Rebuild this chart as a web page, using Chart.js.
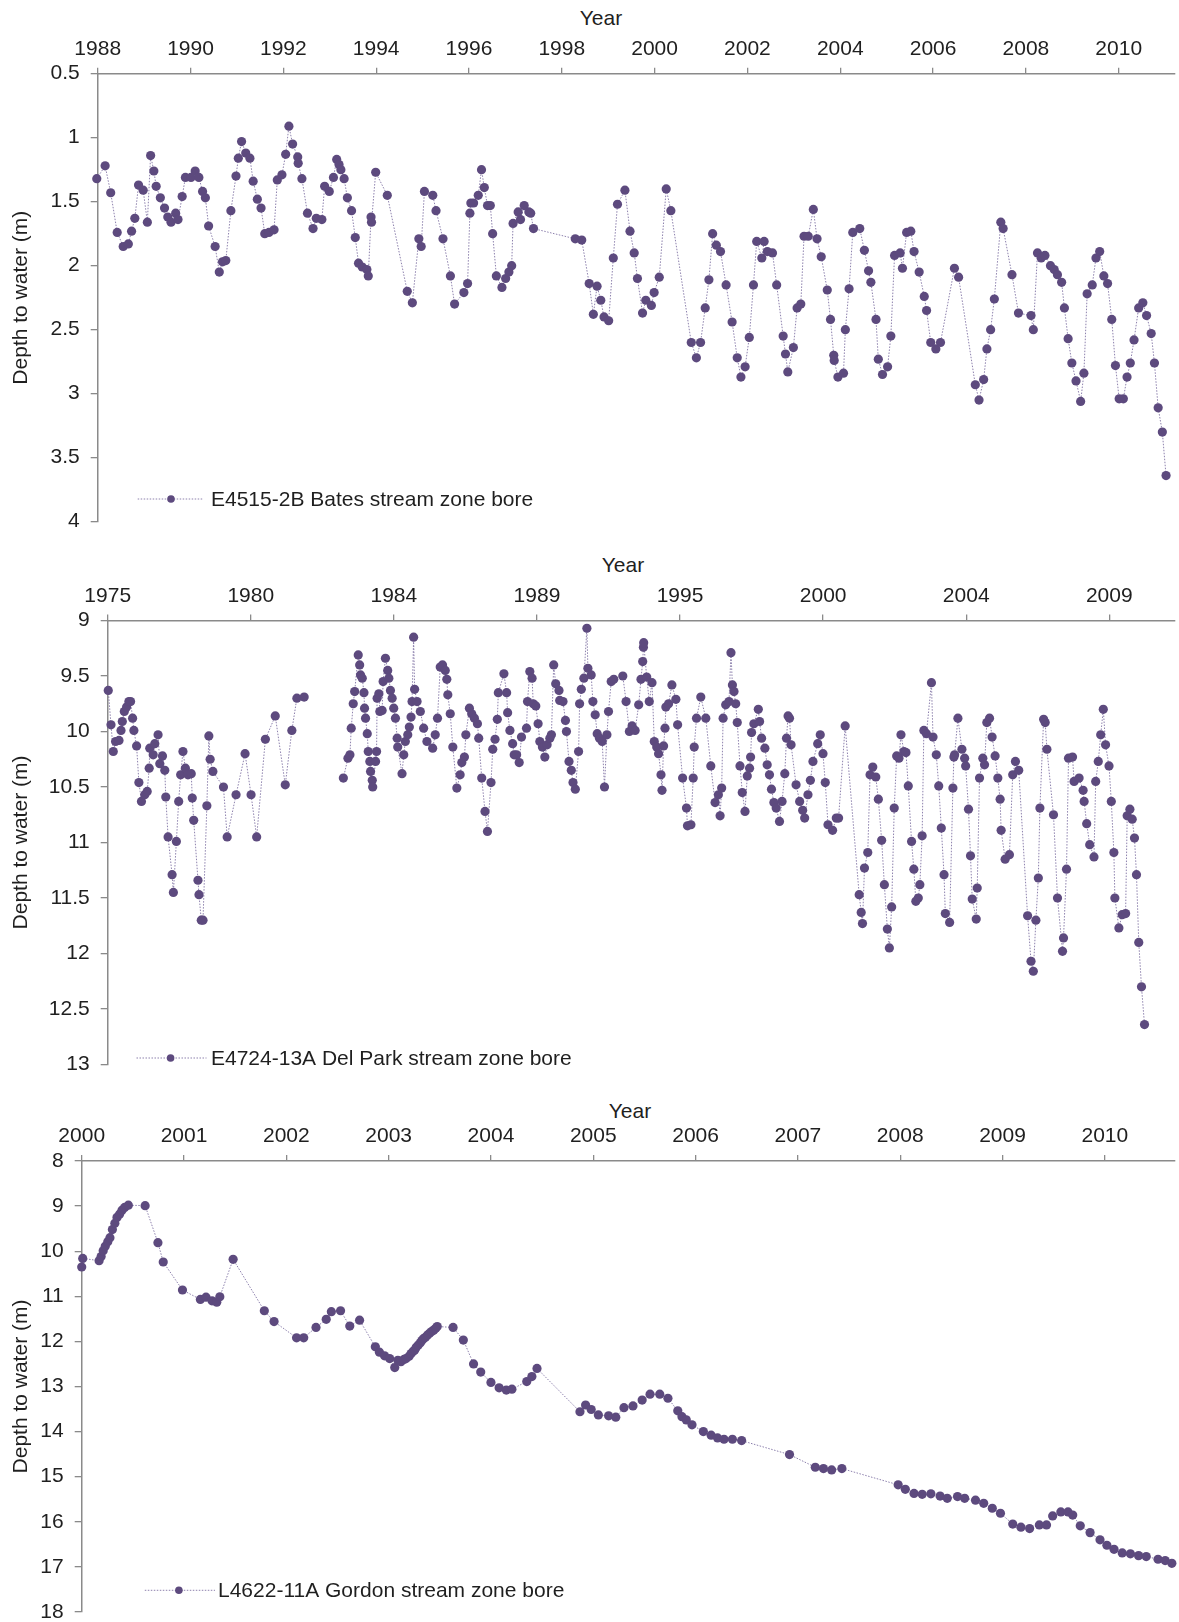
<!DOCTYPE html>
<html>
<head>
<meta charset="utf-8">
<title>Depth to water – stream zone bores</title>
<script src="https://cdn.jsdelivr.net/npm/chart.js@4.4.1/dist/chart.umd.min.js"></script>
<style>
  body { margin: 0; background: #fff; }
  #wrap { position: relative; width: 1179px; height: 1622px; overflow: hidden; }
  #wrap canvas { position: absolute; left: 0; }
  .axis-title {
    position: absolute;
    transform: translate(-50%, -50%);
    font: 21px "Liberation Sans", Arial, sans-serif;
    color: #1f1f1f;
    white-space: nowrap;
  }
</style>
</head>
<body>
<div id="wrap">
  <div class="axis-title" style="left:601px;top:18px">Year</div>
  <canvas id="bates" width="1179" height="552" style="top:0;width:1179px;height:552px"></canvas>
  <div class="axis-title" style="left:623px;top:565px">Year</div>
  <canvas id="delpark" width="1179" height="550" style="top:545px;width:1179px;height:550px"></canvas>
  <div class="axis-title" style="left:630px;top:1111px">Year</div>
  <canvas id="gordon" width="1179" height="554" style="top:1088px;width:1179px;height:554px"></canvas>
</div>
<script>
// ---- Bates bore (E4515-2B)
const batesYearTicks = [1988, 1990, 1992, 1994, 1996, 1998, 2000, 2002, 2004, 2006, 2008, 2010]
const batesDepthTicks = [0.5, 1, 1.5, 2, 2.5, 3, 3.5, 4]
const batesYear = [
  1987.98, 1988.16, 1988.28, 1988.42, 1988.55, 1988.66, 1988.73, 1988.80, 1988.88, 1988.98,
  1989.07, 1989.14, 1989.21, 1989.26, 1989.35, 1989.44, 1989.51, 1989.58, 1989.68, 1989.73,
  1989.82, 1989.89, 1990.01, 1990.10, 1990.18, 1990.26, 1990.32, 1990.39, 1990.53, 1990.62,
  1990.69, 1990.76, 1990.87, 1990.98, 1991.03, 1991.10, 1991.19, 1991.28, 1991.35, 1991.44,
  1991.52, 1991.60, 1991.69, 1991.80, 1991.87, 1991.97, 1992.05, 1992.12, 1992.20, 1992.31,
  1992.32, 1992.40, 1992.52, 1992.64, 1992.71, 1992.83, 1992.89, 1992.99, 1993.08, 1993.15,
  1993.20, 1993.24, 1993.31, 1993.38, 1993.47, 1993.55, 1993.62, 1993.70, 1993.80, 1993.83,
  1993.89, 1993.90, 1993.99, 1994.24, 1994.67, 1994.78, 1994.92, 1994.97, 1995.04, 1995.22,
  1995.29, 1995.44, 1995.60, 1995.69, 1995.89, 1995.97, 1996.02, 1996.04, 1996.10, 1996.20,
  1996.27, 1996.33, 1996.40, 1996.46, 1996.51, 1996.59, 1996.71, 1996.79, 1996.86, 1996.92,
  1996.95, 1997.06, 1997.11, 1997.19, 1997.29, 1997.33, 1997.39, 1998.29, 1998.43, 1998.59,
  1998.68, 1998.76, 1998.84, 1998.91, 1999.01, 1999.11, 1999.20, 1999.36, 1999.47, 1999.56,
  1999.63, 1999.74, 1999.81, 1999.93, 1999.99, 2000.10, 2000.25, 2000.35, 2000.79, 2000.90,
  2000.99, 2001.09, 2001.17, 2001.25, 2001.33, 2001.42, 2001.54, 2001.67, 2001.78, 2001.86,
  2001.95, 2002.04, 2002.13, 2002.20, 2002.31, 2002.36, 2002.43, 2002.54, 2002.63, 2002.77,
  2002.82, 2002.87, 2002.99, 2003.07, 2003.15, 2003.22, 2003.31, 2003.42, 2003.50, 2003.59,
  2003.72, 2003.79, 2003.86, 2003.87, 2003.95, 2004.07, 2004.11, 2004.19, 2004.27, 2004.42,
  2004.52, 2004.61, 2004.66, 2004.77, 2004.82, 2004.91, 2005.02, 2005.09, 2005.17, 2005.29,
  2005.34, 2005.43, 2005.52, 2005.59, 2005.70, 2005.81, 2005.86, 2005.95, 2006.06, 2006.16,
  2006.46, 2006.55, 2006.91, 2006.99, 2007.09, 2007.16, 2007.24, 2007.32, 2007.46, 2007.51,
  2007.70, 2007.84, 2008.11, 2008.16, 2008.25, 2008.33, 2008.41, 2008.53, 2008.61, 2008.68,
  2008.77, 2008.83, 2008.91, 2008.99, 2009.08, 2009.18, 2009.25, 2009.32, 2009.43, 2009.51,
  2009.59, 2009.68, 2009.76, 2009.85, 2009.93, 2010.01, 2010.10, 2010.18, 2010.25, 2010.33,
  2010.43, 2010.52, 2010.60, 2010.70, 2010.77, 2010.85, 2010.94, 2011.02
]
const batesDepth = [
  1.32, 1.22, 1.43, 1.74, 1.85, 1.83, 1.73, 1.63, 1.37, 1.41,
  1.66, 1.14, 1.26, 1.38, 1.47, 1.55, 1.62, 1.66, 1.59, 1.64,
  1.46, 1.31, 1.31, 1.26, 1.31, 1.42, 1.47, 1.69, 1.85, 2.05,
  1.97, 1.96, 1.57, 1.30, 1.16, 1.03, 1.12, 1.16, 1.34, 1.48,
  1.55, 1.75, 1.74, 1.72, 1.33, 1.29, 1.13, 0.91, 1.05, 1.15,
  1.20, 1.32, 1.59, 1.71, 1.63, 1.64, 1.38, 1.42, 1.31, 1.17,
  1.21, 1.25, 1.32, 1.47, 1.57, 1.78, 1.98, 2.01, 2.03, 2.08,
  1.62, 1.66, 1.27, 1.45, 2.20, 2.29, 1.79, 1.85, 1.42, 1.45,
  1.57, 1.79, 2.08, 2.30, 2.21, 2.14, 1.59, 1.51, 1.51, 1.45,
  1.25, 1.39, 1.53, 1.53, 1.75, 2.08, 2.17, 2.10, 2.05, 2.00,
  1.67, 1.58, 1.64, 1.53, 1.58, 1.59, 1.71, 1.79, 1.80, 2.14,
  2.38, 2.16, 2.27, 2.40, 2.43, 1.94, 1.52, 1.41, 1.73, 1.90,
  2.10, 2.37, 2.27, 2.31, 2.21, 2.09, 1.40, 1.57, 2.60, 2.72,
  2.60, 2.33, 2.11, 1.75, 1.84, 1.89, 2.15, 2.44, 2.72, 2.87,
  2.79, 2.56, 2.15, 1.81, 1.94, 1.81, 1.89, 1.90, 2.15, 2.55,
  2.69, 2.83, 2.64, 2.33, 2.30, 1.77, 1.77, 1.56, 1.79, 1.93,
  2.19, 2.42, 2.70, 2.74, 2.87, 2.84, 2.50, 2.18, 1.74, 1.71,
  1.88, 2.04, 2.13, 2.42, 2.73, 2.85, 2.79, 2.55, 1.92, 1.90,
  2.02, 1.74, 1.73, 1.89, 2.05, 2.24, 2.35, 2.60, 2.65, 2.60,
  2.02, 2.09, 2.93, 3.05, 2.89, 2.65, 2.50, 2.26, 1.66, 1.71,
  2.07, 2.37, 2.39, 2.50, 1.90, 1.94, 1.92, 2.00, 2.03, 2.07,
  2.13, 2.33, 2.57, 2.76, 2.90, 3.06, 2.84, 2.22, 2.15, 1.94,
  1.89, 2.08, 2.14, 2.42, 2.78, 3.04, 3.04, 2.87, 2.76, 2.58,
  2.33, 2.29, 2.39, 2.53, 2.76, 3.11, 3.30, 3.64
]

// ---- Del Park bore (E4724-13A): x is position along the axis, one unit per labelled tick
const delParkTickLabels = ['1975', '1980', '1984', '1989', '1995', '2000', '2004', '2009']
const delParkDepthTicks = [9, 9.5, 10, 10.5, 11, 11.5, 12, 12.5, 13]
const delParkPos = [
  0.004, 0.023, 0.039, 0.055, 0.079, 0.093, 0.102, 0.116, 0.132, 0.148,
  0.160, 0.174, 0.183, 0.202, 0.218, 0.236, 0.259, 0.276, 0.290, 0.294,
  0.318, 0.329, 0.352, 0.364, 0.383, 0.399, 0.406, 0.422, 0.450, 0.459,
  0.480, 0.496, 0.510, 0.526, 0.543, 0.561, 0.584, 0.591, 0.601, 0.631,
  0.638, 0.654, 0.666, 0.693, 0.707, 0.716, 0.735, 0.809, 0.835, 0.897,
  0.960, 1.002, 1.041, 1.102, 1.171, 1.241, 1.287, 1.322, 1.373, 1.500,
  1.647, 1.679, 1.693, 1.702, 1.716, 1.726, 1.751, 1.761, 1.767, 1.779,
  1.791, 1.795, 1.802, 1.814, 1.821, 1.832, 1.837, 1.849, 1.852, 1.872,
  1.879, 1.883, 1.895, 1.902, 1.918, 1.925, 1.941, 1.957, 1.965, 1.976,
  1.988, 1.999, 2.011, 2.023, 2.027, 2.057, 2.069, 2.080, 2.097, 2.108,
  2.120, 2.127, 2.138, 2.145, 2.162, 2.185, 2.208, 2.231, 2.271, 2.289,
  2.305, 2.324, 2.340, 2.359, 2.370, 2.377, 2.394, 2.412, 2.440, 2.463,
  2.475, 2.493, 2.503, 2.528, 2.544, 2.563, 2.584, 2.593, 2.614, 2.637,
  2.654, 2.679, 2.691, 2.707, 2.723, 2.730, 2.769, 2.788, 2.795, 2.811,
  2.830, 2.841, 2.858, 2.876, 2.892, 2.927, 2.934, 2.950, 2.966, 2.974,
  2.992, 3.008, 3.020, 3.038, 3.055, 3.071, 3.090, 3.101, 3.117, 3.131,
  3.154, 3.159, 3.182, 3.199, 3.206, 3.224, 3.240, 3.252, 3.268, 3.291,
  3.298, 3.310, 3.328, 3.349, 3.356, 3.379, 3.391, 3.407, 3.421, 3.437,
  3.456, 3.472, 3.489, 3.500, 3.519, 3.537, 3.600, 3.623, 3.646, 3.665,
  3.686, 3.711, 3.727, 3.739, 3.744, 3.746, 3.767, 3.785, 3.804, 3.820,
  3.837, 3.850, 3.867, 3.874, 3.885, 3.895, 3.901, 3.920, 3.943, 3.971,
  3.983, 4.018, 4.045, 4.052, 4.076, 4.092, 4.099, 4.115, 4.145, 4.180,
  4.215, 4.245, 4.268, 4.280, 4.291, 4.301, 4.319, 4.342, 4.356, 4.366,
  4.377, 4.389, 4.400, 4.419, 4.435, 4.454, 4.470, 4.486, 4.493, 4.500,
  4.516, 4.547, 4.556, 4.570, 4.593, 4.609, 4.625, 4.639, 4.656, 4.672,
  4.695, 4.713, 4.732, 4.744, 4.755, 4.765, 4.776, 4.811, 4.836, 4.857,
  4.871, 4.894, 4.911, 4.929, 4.962, 4.980, 4.999, 5.015, 5.034, 5.066,
  5.092, 5.108, 5.154, 5.252, 5.266, 5.275, 5.289, 5.312, 5.328, 5.347,
  5.368, 5.386, 5.409, 5.428, 5.449, 5.463, 5.479, 5.497, 5.514, 5.530,
  5.544, 5.565, 5.579, 5.595, 5.618, 5.634, 5.648, 5.665, 5.676, 5.692,
  5.704, 5.722, 5.757, 5.768, 5.791, 5.808, 5.826, 5.845, 5.854, 5.884,
  5.907, 5.914, 5.919, 5.942, 5.970, 5.989, 5.996, 6.016, 6.030, 6.042,
  6.070, 6.077, 6.093, 6.116, 6.128, 6.144, 6.163, 6.181, 6.202, 6.221,
  6.237, 6.244, 6.272, 6.302, 6.325, 6.344, 6.367, 6.429, 6.453, 6.469,
  6.487, 6.504, 6.515, 6.541, 6.552, 6.564, 6.610, 6.638, 6.673, 6.680,
  6.701, 6.715, 6.743, 6.754, 6.789, 6.817, 6.824, 6.842, 6.863, 6.893,
  6.905, 6.923, 6.940, 6.958, 6.974, 6.998, 7.014, 7.032, 7.039, 7.067,
  7.090, 7.114, 7.125, 7.144, 7.160, 7.176, 7.190, 7.206, 7.225, 7.246
]
const delParkDepth = [
  9.63, 9.94, 10.18, 10.09, 10.08, 9.99, 9.91, 9.82, 9.78, 9.73,
  9.73, 9.88, 9.99, 10.13, 10.46, 10.63, 10.57, 10.54, 10.33, 10.15,
  10.21, 10.11, 10.03, 10.29, 10.22, 10.35, 10.59, 10.95, 11.29, 11.45,
  10.99, 10.63, 10.39, 10.18, 10.33, 10.39, 10.38, 10.60, 10.80, 11.34,
  11.47, 11.70, 11.70, 10.67, 10.04, 10.25, 10.36, 10.50, 10.95, 10.57,
  10.20, 10.57, 10.95, 10.07, 9.86, 10.48, 9.99, 9.70, 9.69, null,
  10.42, 10.24, 10.21, 9.97, 9.75, 9.64, 9.31, 9.40, 9.49, 9.52,
  9.65, 9.79, 9.88, 10.02, 10.18, 10.27, 10.36, 10.44, 10.50, 10.27,
  10.18, 9.70, 9.66, 9.82, 9.81, 9.55, 9.34, 9.45, 9.52, 9.63,
  9.70, 9.79, 9.88, 10.06, 10.14, 10.38, 10.21, 10.09, 10.03, 9.96,
  9.87, 9.73, 9.15, 9.62, 9.73, 9.82, 9.97, 10.09, 10.15, 10.03,
  9.88, 9.42, 9.40, 9.45, 9.53, 9.67, 9.84, 10.14, 10.51, 10.39,
  10.28, 10.23, 10.03, 9.79, 9.84, 9.88, 9.93, 10.06, 10.42, 10.72,
  10.90, 10.46, 10.16, 10.07, 9.89, 9.65, 9.48, 9.65, 9.83, 9.99,
  10.11, 10.21, 10.21, 10.28, 10.05, 9.97, 9.73, 9.46, 9.52, 9.75,
  9.77, 9.93, 10.09, 10.14, 10.23, 10.12, 10.06, 10.03, 9.40, 9.57,
  9.63, 9.72, 9.73, 9.90, 10.00, 10.27, 10.35, 10.46, 10.52, 10.18,
  9.75, 9.62, 9.52, 9.07, 9.43, 9.49, 9.73, 9.85, 10.02, 10.06,
  10.09, 10.50, 10.03, 9.82, 9.55, 9.53, 9.50, 9.73, 10.00, 9.95,
  9.99, 9.76, 9.53, 9.37, 9.24, 9.20, 9.51, 9.73, 9.56, 10.09,
  10.14, 10.20, 10.39, 10.53, 10.13, 9.97, 9.78, 9.75, 9.58, 9.71,
  9.94, 10.42, 10.69, 10.85, 10.84, 10.42, 10.14, 9.88, 9.69, 9.88,
  10.31, 10.64, 10.57, 10.76, 10.51, 9.88, 9.76, 9.73, 9.29, 9.58,
  9.64, 9.75, 9.92, 10.31, 10.55, 10.72, 10.40, 10.33, 10.23, 10.01,
  9.93, 9.80, 9.91, 10.06, 10.15, 10.30, 10.39, 10.52, 10.64, 10.69,
  10.81, 10.63, 10.38, 10.06, 9.86, 9.88, 10.12, 10.48, 10.63, 10.71,
  10.78, 10.57, 10.44, 10.27, 10.11, 10.03, 10.20, 10.46, 10.84, 10.89,
  10.78, 10.78, 9.95, 11.47, 11.63, 11.73, 11.23, 11.09, 10.39, 10.32,
  10.41, 10.61, 10.98, 11.38, 11.78, 11.95, 11.58, 10.69, 10.22, 10.24,
  10.03, 10.18, 10.19, 10.49, 10.99, 11.24, 11.53, 11.50, 11.38, 10.94,
  9.99, 10.02, 9.56, 10.05, 10.21, 10.49, 10.87, 11.29, 11.64, 11.72,
  10.51, 10.23, 10.21, 9.88, 10.16, 10.24, 10.31, 10.70, 11.12, 11.51,
  11.69, 11.41, 10.42, 10.24, 10.30, 9.92, 9.88, 10.05, 10.22, 10.42,
  10.61, 10.89, 11.15, 11.11, 10.39, 10.27, 10.35, 11.66, 12.07, 12.16,
  11.70, 11.32, 10.69, 9.89, 9.92, 10.16, 10.75, 11.50, 11.98, 11.86,
  11.24, 10.24, 10.23, 10.45, 10.42, 10.53, 10.63, 10.83, 11.02, 11.13,
  10.45, 10.27, 10.03, 9.80, 10.12, 10.31, 10.63, 11.09, 11.50, 11.77,
  11.65, 11.64, 10.76, 10.70, 10.79, 10.96, 11.29, 11.90, 12.30, 12.64
]

// ---- Gordon bore (L4622-11A)
const gordonYearTicks = [2000, 2001, 2002, 2003, 2004, 2005, 2006, 2007, 2008, 2009, 2010]
const gordonDepthTicks = [8, 9, 10, 11, 12, 13, 14, 15, 16, 17, 18]
const gordonYear = [
  2000.00, 2000.01, 2000.17, 2000.19, 2000.21, 2000.23, 2000.255, 2000.276, 2000.30, 2000.324,
  2000.345, 2000.37, 2000.394, 2000.42, 2000.456, 2000.62, 2000.745, 2000.797, 2000.985, 2001.16,
  2001.215, 2001.274, 2001.32, 2001.35, 2001.48, 2001.785, 2001.88, 2002.10, 2002.17, 2002.29,
  2002.39, 2002.44, 2002.53, 2002.62, 2002.716, 2002.87, 2002.91, 2002.96, 2003.01, 2003.06,
  2003.09, 2003.12, 2003.15, 2003.17, 2003.20, 2003.22, 2003.24, 2003.255, 2003.27, 2003.29,
  2003.31, 2003.325, 2003.34, 2003.36, 2003.38, 2003.40, 2003.42, 2003.44, 2003.46, 2003.475,
  2003.63, 2003.73, 2003.83, 2003.90, 2004.00, 2004.08, 2004.15, 2004.205, 2004.35, 2004.40,
  2004.45, 2004.87, 2004.925, 2004.98, 2005.05, 2005.15, 2005.22, 2005.30, 2005.388, 2005.478,
  2005.555, 2005.65, 2005.73, 2005.826, 2005.867, 2005.909, 2005.965, 2006.076, 2006.152, 2006.215,
  2006.278, 2006.36, 2006.45, 2006.918, 2007.17, 2007.25, 2007.33, 2007.43, 2007.98, 2008.05,
  2008.135, 2008.215, 2008.30, 2008.39, 2008.46, 2008.56, 2008.63, 2008.736, 2008.816, 2008.90,
  2008.98, 2009.10, 2009.18, 2009.265, 2009.36, 2009.43, 2009.49, 2009.57, 2009.64, 2009.686,
  2009.76, 2009.856, 2009.953, 2010.02, 2010.09, 2010.17, 2010.25, 2010.33, 2010.405, 2010.52,
  2010.59, 2010.655
]
const gordonDepth = [
  10.35, 10.16, 10.21, 10.12, 9.99, 9.89, 9.79, 9.70, 9.52, 9.38,
  9.25, 9.18, 9.09, 9.03, 8.98, 8.99, 9.81, 10.24, 10.86, 11.07,
  11.02, 11.10, 11.13, 11.01, 10.18, 11.32, 11.56, 11.92, 11.92, 11.69,
  11.51, 11.34, 11.32, 11.66, 11.53, 12.12, 12.24, 12.32, 12.38, 12.58,
  12.42, 12.45, 12.40, 12.38, 12.33, 12.27, 12.22, 12.19, 12.13, 12.08,
  12.03, 11.98, 11.94, 11.91, 11.86, 11.82, 11.78, 11.75, 11.71, 11.67,
  11.69, 11.97, 12.50, 12.68, 12.91, 13.03, 13.08, 13.06, 12.89, 12.78,
  12.60, 13.56, 13.41, 13.51, 13.63, 13.65, 13.68, 13.47, 13.43, 13.30,
  13.17, 13.17, 13.26, 13.54, 13.67, 13.74, 13.85, 14.00, 14.08, 14.14,
  14.17, 14.17, 14.20, 14.51, 14.79, 14.82, 14.85, 14.82, 15.18, 15.28,
  15.37, 15.39, 15.38, 15.43, 15.48, 15.44, 15.48, 15.52, 15.59, 15.70,
  15.81, 16.05, 16.12, 16.15, 16.07, 16.07, 15.87, 15.78, 15.78, 15.85,
  16.09, 16.24, 16.40, 16.52, 16.61, 16.69, 16.71, 16.75, 16.77, 16.83,
  16.86, 16.92
]

// ---- shared look
const FONT = '"Liberation Sans", Arial, sans-serif'
const TEXT = '#1f1f1f'
const AXIS = '#8a8a8a'
const MARKER = '#5d4a7e'
const LINE = 'rgba(112, 98, 152, 0.8)'

Chart.defaults.font.family = FONT
Chart.defaults.font.size = 21
Chart.defaults.color = TEXT

// legend drawn as a short dotted line with a marker, like the spreadsheet original
const legendSample = {
  id: 'legendSample',
  afterDraw(chart, args, o) {
    const ctx = chart.ctx
    const ds = chart.data.datasets[0]
    ctx.save()
    ctx.strokeStyle = LINE
    ctx.lineWidth = 1
    ctx.setLineDash([1.5, 1.5])
    ctx.beginPath()
    ctx.moveTo(o.x1, o.y)
    ctx.lineTo(o.x2, o.y)
    ctx.stroke()
    ctx.setLineDash([])
    ctx.fillStyle = MARKER
    ctx.beginPath()
    ctx.arc(o.dot, o.y, 3.8, 0, Math.PI * 2)
    ctx.fill()
    ctx.fillStyle = TEXT
    ctx.font = '21px ' + FONT
    ctx.textBaseline = 'middle'
    ctx.textAlign = 'left'
    ctx.fillText(ds.label, o.textX, o.y + 1)
    ctx.restore()
  }
}

function makePanel(id, xs, ys, c) {
  const points = xs.map((x, i) => ({ x: x, y: ys[i] }))
  return new Chart(document.getElementById(id), {
    type: 'line',
    data: {
      datasets: [{
        label: c.label,
        data: points,
        borderColor: LINE,
        borderWidth: 1,
        borderDash: [1.5, 1.5],
        tension: 0,
        spanGaps: false,
        clip: false,
        pointRadius: 4.6,
        pointBackgroundColor: MARKER,
        pointBorderColor: MARKER,
        pointBorderWidth: 0
      }]
    },
    options: {
      responsive: false,
      animation: false,
      devicePixelRatio: 1,
      events: [],
      layout: { padding: { left: 0, right: 0, top: 0, bottom: c.padBottom } },
      plugins: {
        legend: { display: false },
        tooltip: { enabled: false },
        legendSample: c.legend
      },
      scales: {
        x: {
          type: 'linear',
          position: 'top',
          min: c.xMin,
          max: c.xMax,
          afterBuildTicks: s => { s.ticks = c.xTicks.map(v => ({ value: v })) },
          afterFit: s => { s.height = c.xAxisHeight },
          ticks: { callback: c.xLabel, padding: 6, maxRotation: 0, autoSkip: false, color: TEXT },
          grid: { drawOnChartArea: false, drawTicks: true, tickLength: 6, color: AXIS, lineWidth: 1.3 },
          border: { color: AXIS, width: 1.5 }
        },
        y: {
          type: 'linear',
          reverse: true,
          min: c.yTicks[0],
          max: c.yTicks[c.yTicks.length - 1],
          afterBuildTicks: s => { s.ticks = c.yTicks.map(v => ({ value: v })) },
          afterFit: s => { s.width = c.yAxisWidth },
          ticks: { callback: v => String(v), padding: 11, color: TEXT },
          grid: { drawOnChartArea: false, drawTicks: true, tickLength: 7, color: AXIS, lineWidth: 1.3 },
          border: { color: AXIS, width: 1.5 },
          title: { display: true, text: 'Depth to water (m)', color: TEXT, padding: { top: 9, bottom: 0 } }
        }
      }
    },
    plugins: [legendSample]
  })
}

// bottom padding is kept above Chart.js's own label allowance so the plot bottom lands exactly
makePanel('bates', batesYear, batesDepth, {
  label: 'E4515-2B Bates stream zone bore',
  xMin: 1988, xMax: 2011.2, xTicks: batesYearTicks, xLabel: v => String(v),
  yTicks: batesDepthTicks,
  xAxisHeight: 73.7, yAxisWidth: 97.7, padBottom: 30.3,
  legend: { x1: 137.7, x2: 203, dot: 171, y: 499, textX: 211 }
})

makePanel('delpark', delParkPos, delParkDepth, {
  label: 'E4724-13A Del Park stream zone bore',
  xMin: 0, xMax: 7.455, xTicks: delParkTickLabels.map((t, i) => i),
  xLabel: v => delParkTickLabels[Math.round(v)],
  yTicks: delParkDepthTicks,
  xAxisHeight: 75.5, yAxisWidth: 107.7, padBottom: 30.5,
  legend: { x1: 136.5, x2: 206.5, dot: 170.6, y: 513, textX: 211 }
})

makePanel('gordon', gordonYear, gordonDepth, {
  label: 'L4622-11A Gordon stream zone bore',
  xMin: 2000, xMax: 2010.68, xTicks: gordonYearTicks, xLabel: v => String(v),
  yTicks: gordonDepthTicks,
  xAxisHeight: 73, yAxisWidth: 81.7, padBottom: 30,
  legend: { x1: 144.8, x2: 215, dot: 178.9, y: 502.3, textX: 218 }
})
</script>
</body>
</html>
